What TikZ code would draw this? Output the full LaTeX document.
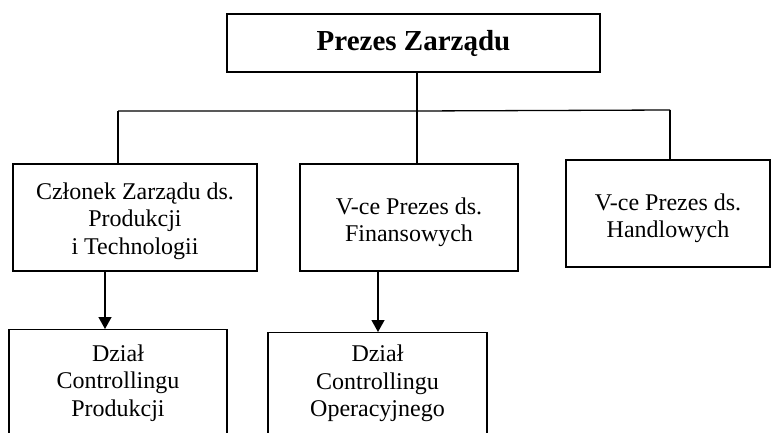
\documentclass[tikz,border=0pt]{standalone}
\usepackage{fontspec}
\setmainfont{Liberation Serif}
\usetikzlibrary{arrows.meta}
\begin{document}
\begin{tikzpicture}[x=1pt,y=-1pt,
  line width=1.3pt,
  orgbox/.style={draw=black, line width=1.3pt, rectangle, inner sep=0pt},
  txt/.style={inner sep=0pt, align=center, font=\fontsize{24}{27.5}\selectfont},
  arr/.style={-{Triangle[width=13pt,length=12pt]}}
]
\useasboundingbox (0,0) rectangle (772,433);
\clip (0,0) rectangle (772,433);

% boxes
\node[orgbox, minimum width=373pt, minimum height=58pt, font=\fontsize{29}{33}\selectfont\bfseries]
  (top) at (413.5,43) {Prezes Zarządu};
\node[orgbox, minimum width=244pt, minimum height=107pt] (b1) at (135,217.5) {};
\node[orgbox, minimum width=218pt, minimum height=107pt] (b2) at (409,217.5) {};
\node[orgbox, minimum width=204pt, minimum height=107pt] (b3) at (668,213.5) {};
\node[orgbox, minimum width=218pt, minimum height=140pt, anchor=north] (b4) at (118,329) {};
\node[orgbox, minimum width=219pt, minimum height=140pt, anchor=north] (b5) at (377.5,332) {};

% texts
\node[txt] (t1) at ([yshift=-3.5pt]b1.center) {Członek Zarządu ds.\\Produkcji\\i Technologii};
\node[txt] (t2) at ([yshift=-5pt]b2.center) {V-ce Prezes ds.\\Finansowych};
\node[txt] (t3) at ([yshift=-5pt]b3.center) {V-ce Prezes ds.\\Handlowych};
\node[txt] (t4) at (118,383) {Dział\\Controllingu\\Produkcji};
\node[txt] (t5) at (377.5,383.5) {Dział\\Controllingu\\Operacyjnego};

% tree connectors
\coordinate (jc) at (417,111);
\coordinate (jl) at (118,111);
\coordinate (jr) at (670,110);
\draw (top.south -| jc) -- (jc);
\draw (jl) -- (jc) -- (jr);
\draw (jl) -- (jl |- b1.north);
\draw (jc) -- (jc |- b2.north);
\draw (jr) -- (jr |- b3.north);

% arrows
\coordinate (a1) at (105,0);
\coordinate (a2) at (378,0);
\draw[arr] (a1 |- b1.south) -- (a1 |- b4.north);
\draw[arr] (a2 |- b2.south) -- (a2 |- b5.north);
\end{tikzpicture}
\end{document}
